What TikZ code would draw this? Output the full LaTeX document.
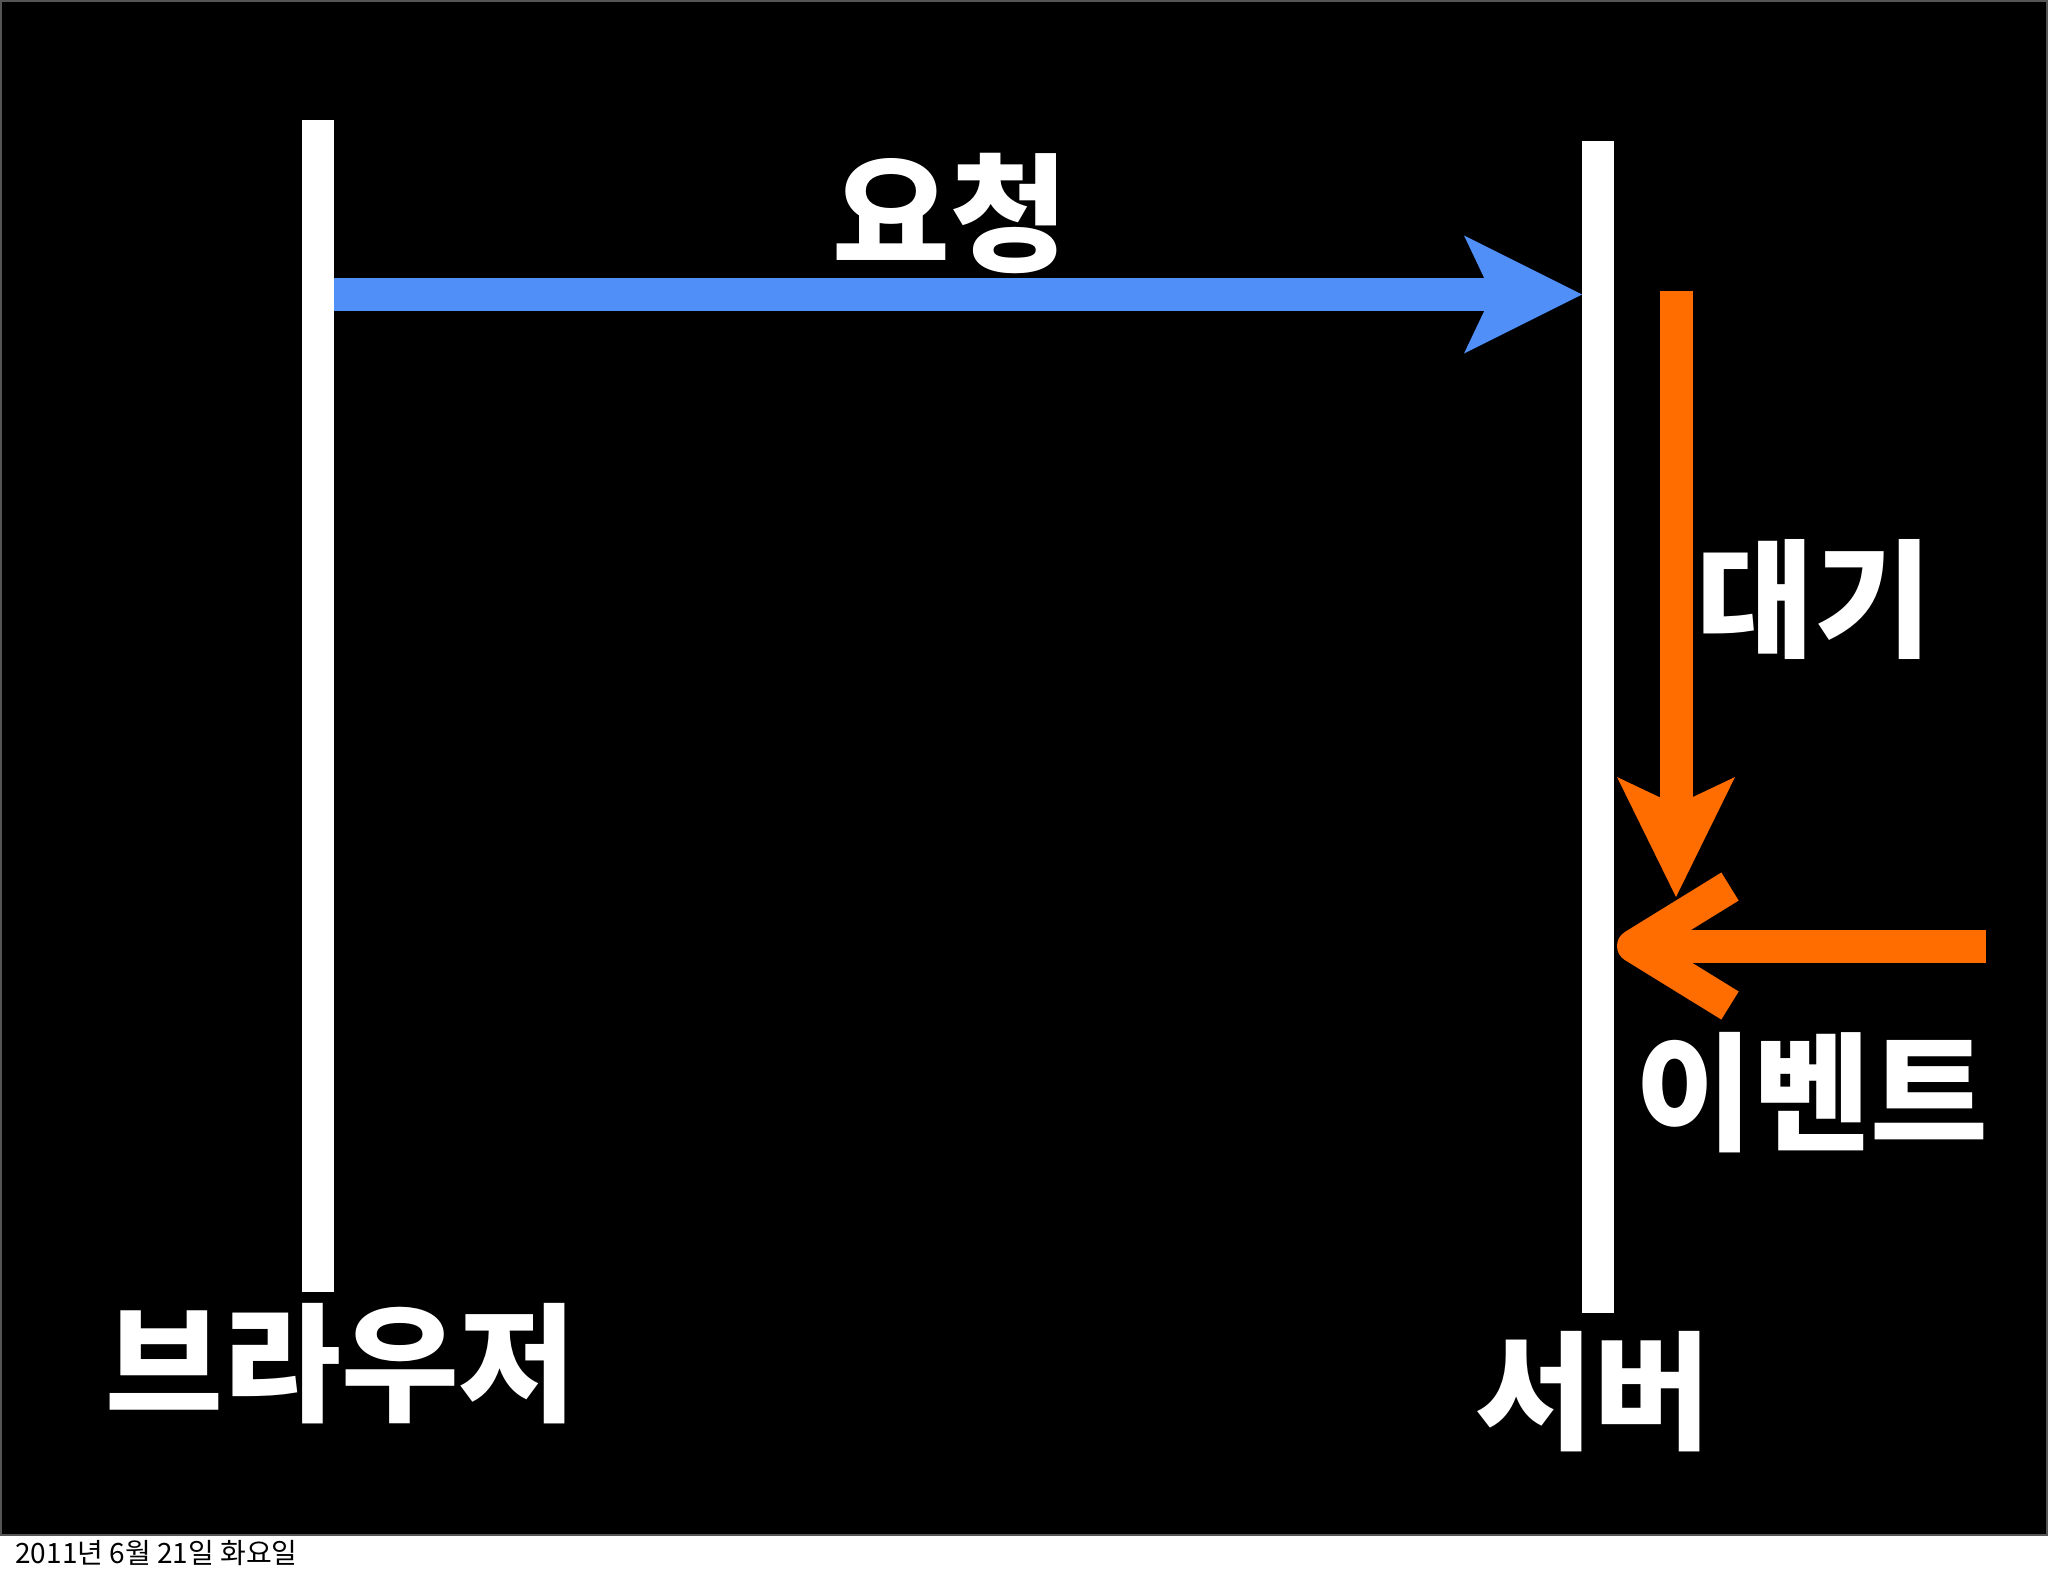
\documentclass[tikz,border=0pt]{standalone}
\usepackage{fontspec}
\setmainfont{Noto Sans CJK KR}
\newfontfamily\kfont{Noto Sans CJK KR}
\usetikzlibrary{arrows.meta,positioning}
\definecolor{reqblue}{RGB}{80,142,248}
\definecolor{evtorange}{RGB}{255,108,0}
\definecolor{framegrey}{RGB}{85,85,85}

\begin{document}
\begin{tikzpicture}[x=0.5pt,y=-0.5pt,
  lifeline/.style={fill=white,minimum width=16pt,minimum height=586pt,inner sep=0pt,outer sep=0pt},
  lbl/.style={text=white,inner sep=0pt,font=\kfont\bfseries\fontsize{64}{64}\selectfont},
  datelbl/.style={text=black,inner sep=0pt,anchor=west,font=\kfont\fontsize{14}{14}\selectfont},
  reqarrow/.style={draw=reqblue,line width=16.5pt,-{Stealth[length=59pt,width=59pt,inset=14pt,line width=0pt]}},
  waitarrow/.style={draw=evtorange,line width=16.5pt,-{Stealth[length=60pt,width=59pt,inset=14pt,line width=0pt]}},
  evtline/.style={draw=evtorange,line width=16.5pt}]

  \useasboundingbox (0,0) rectangle (2048,1576);
  % slide background
  \fill[black] (0,0) rectangle (2048,1535);
  \draw[framegrey,line width=1pt] (1,1) rectangle (2047,1535);

  % the two lifelines
  \node[lifeline] (bline) at (318,706) {};
  \node[lifeline] (sline) at (1598,727) {};

  \node[lbl] (browser) at (341,1364) {브라우저};
  \node[lbl] (server) at (1593,1392) {서버};

  % request
  \coordinate (reqY) at (0,294.5);
  \draw[reqarrow] (bline.east |- reqY) -- (sline.west |- reqY);
  \node[lbl] (request) at (950,213) {요청};

  % waiting
  \coordinate (waitTop) at (1676,291);
  \coordinate (waitEnd) at (1676,897);
  \draw[waitarrow] (waitTop) -- (waitEnd);
  \node[lbl] (wait) at (1814,599) {대기};

  % event
  \coordinate (evtStart) at (1986,946);
  \coordinate (evtTip) at (1633.5,946);
  \draw[evtline] (evtStart) -- (evtTip);
  \draw[evtline,line join=round] ([shift={(96.5,-59.5)}]evtTip) -- (evtTip) -- ([shift={(96.5,59.5)}]evtTip);
  \node[lbl] (event) at (1812,1093) {이벤트};

  \node[datelbl] (date) at (15,1553) {2011년 6월 21일 화요일};
\end{tikzpicture}
\end{document}
